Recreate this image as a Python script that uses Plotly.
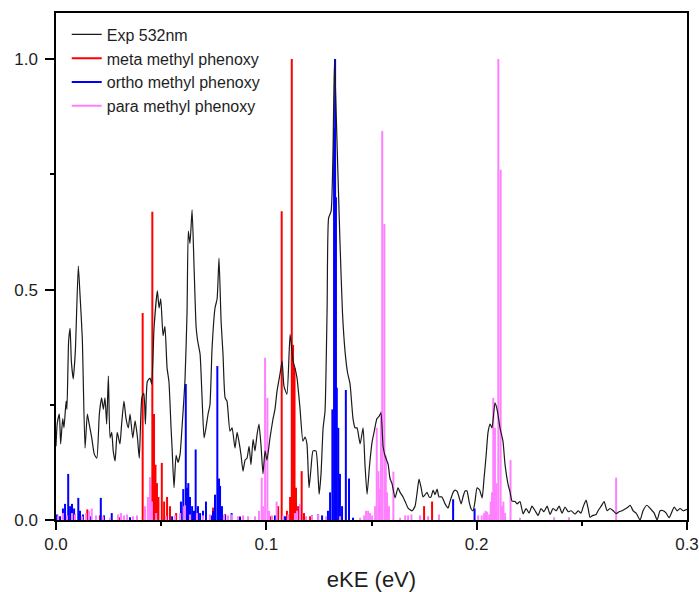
import plotly.graph_objects as go

# ---------------- data ----------------
exp_x = [0.0000, 0.0006, 0.0016, 0.0022, 0.0032, 0.0038, 0.0048, 0.0052, 0.0060, 0.0067,
         0.0073, 0.0082, 0.0092, 0.0106, 0.0114, 0.0125, 0.0138, 0.0149, 0.0157, 0.0170,
         0.0182, 0.0194, 0.0206, 0.0217, 0.0225, 0.0233, 0.0241, 0.0249, 0.0257, 0.0265,
         0.0272, 0.0281, 0.0291, 0.0304, 0.0312, 0.0323, 0.0333, 0.0344, 0.0352, 0.0365,
         0.0376, 0.0387, 0.0396, 0.0408, 0.0418, 0.0425, 0.0434, 0.0447, 0.0455, 0.0466,
         0.0482, 0.0490, 0.0498, 0.0509, 0.0518, 0.0528, 0.0537, 0.0547, 0.0552, 0.0561,
         0.0571, 0.0580, 0.0590, 0.0599, 0.0613, 0.0623, 0.0629, 0.0637, 0.0647, 0.0656,
         0.0666, 0.0673, 0.0685, 0.0694, 0.0704, 0.0713, 0.0723, 0.0732, 0.0742, 0.0756,
         0.0766, 0.0775, 0.0785, 0.0794, 0.0804, 0.0813, 0.0827, 0.0837, 0.0851, 0.0861,
         0.0870, 0.0880, 0.0889, 0.0899, 0.0908, 0.0918, 0.0927, 0.0937, 0.0946, 0.0956,
         0.0965, 0.0975, 0.0984, 0.0994, 0.1003, 0.1018, 0.1032, 0.1041, 0.1051, 0.1065,
         0.1075, 0.1084, 0.1098, 0.1113, 0.1127, 0.1136, 0.1146, 0.1160, 0.1174, 0.1184,
         0.1193, 0.1203, 0.1212, 0.1222, 0.1236, 0.1251, 0.1260, 0.1270, 0.1279, 0.1289,
         0.1296, 0.1308, 0.1317, 0.1324, 0.1336, 0.1350, 0.1362, 0.1374, 0.1386, 0.1398,
         0.1412, 0.1422, 0.1431, 0.1446, 0.1460, 0.1469, 0.1479, 0.1491, 0.1503, 0.1512,
         0.1526, 0.1536, 0.1545, 0.1555, 0.1564, 0.1579, 0.1588, 0.1598, 0.1612, 0.1626,
         0.1636, 0.1650, 0.1660, 0.1674, 0.1693, 0.1707, 0.1717, 0.1726, 0.1736, 0.1745,
         0.1755, 0.1764, 0.1774, 0.1783, 0.1793, 0.1802, 0.1812, 0.1821, 0.1835, 0.1850,
         0.1864, 0.1873, 0.1888, 0.1897, 0.1907, 0.1916, 0.1926, 0.1935, 0.1945, 0.1954,
         0.1964, 0.1973, 0.1983, 0.1992, 0.2002, 0.2014, 0.2026, 0.2035, 0.2045, 0.2054,
         0.2064, 0.2073, 0.2087, 0.2097, 0.2111, 0.2125, 0.2135, 0.2149, 0.2159, 0.2168,
         0.2183, 0.2192, 0.2206, 0.2221, 0.2235, 0.2249, 0.2263, 0.2278, 0.2292, 0.2306,
         0.2320, 0.2335, 0.2349, 0.2363, 0.2378, 0.2392, 0.2406, 0.2420, 0.2435, 0.2449,
         0.2468, 0.2482, 0.2496, 0.2506, 0.2520, 0.2530, 0.2539, 0.2553, 0.2568, 0.2577,
         0.2592, 0.2606, 0.2620, 0.2634, 0.2649, 0.2663, 0.2677, 0.2691, 0.2706, 0.2720,
         0.2730, 0.2744, 0.2758, 0.2777, 0.2791, 0.2809, 0.2825, 0.2844, 0.2858, 0.2872,
         0.2887, 0.2901, 0.2915, 0.2939, 0.2953, 0.2967, 0.2982, 0.3000]
exp_y = [0.16, 0.21, 0.23, 0.165, 0.22, 0.20, 0.258, 0.24, 0.388, 0.416,
         0.345, 0.306, 0.367, 0.551, 0.49, 0.395, 0.156, 0.23, 0.21, 0.178,
         0.143, 0.134, 0.23, 0.265, 0.24, 0.265, 0.208, 0.312, 0.178, 0.19,
         0.15, 0.128, 0.19, 0.165, 0.208, 0.258, 0.22, 0.20, 0.23, 0.178,
         0.215, 0.18, 0.134, 0.265, 0.275, 0.208, 0.30, 0.308, 0.295, 0.416,
         0.497, 0.46, 0.48, 0.40, 0.42, 0.33, 0.30, 0.20, 0.156, 0.07,
         0.14, 0.125, 0.143, 0.20, 0.30, 0.45, 0.627, 0.60, 0.673, 0.555,
         0.42, 0.39, 0.36, 0.27, 0.178, 0.20, 0.23, 0.25, 0.373, 0.46,
         0.48, 0.568, 0.43, 0.36, 0.265, 0.258, 0.193, 0.20, 0.156, 0.19,
         0.17, 0.14, 0.106, 0.13, 0.134, 0.16, 0.12, 0.175, 0.15, 0.186,
         0.208, 0.16, 0.10, 0.15, 0.13, 0.18, 0.22, 0.24, 0.28, 0.317,
         0.345, 0.29, 0.273, 0.403, 0.345, 0.33, 0.308, 0.243, 0.171, 0.18,
         0.165, 0.07, 0.11, 0.15, 0.15, 0.056, 0.10, 0.20, 0.236, 0.46,
         0.655, 0.67, 0.80, 1.0, 0.82, 0.605, 0.45, 0.367, 0.32, 0.295,
         0.22, 0.20, 0.20, 0.165, 0.20, 0.12, 0.056, 0.12, 0.17, 0.19,
         0.22, 0.225, 0.232, 0.16, 0.14, 0.121, 0.09, 0.078, 0.048, 0.07,
         0.06, 0.05, 0.04, 0.026, 0.02, 0.03, 0.06, 0.089, 0.07, 0.05,
         0.055, 0.06, 0.05, 0.05, 0.065, 0.055, 0.067, 0.05, 0.05, 0.035,
         0.026, 0.04, 0.06, 0.065, 0.062, 0.05, 0.035, 0.05, 0.063, 0.063,
         0.04, 0.025, 0.02, 0.04, 0.07, 0.065, 0.048, 0.09, 0.14, 0.19,
         0.208, 0.20, 0.254, 0.24, 0.20, 0.171, 0.12, 0.078, 0.06, 0.041,
         0.04, 0.035, 0.04, 0.013, 0.025, 0.015, 0.03, 0.02, 0.01, 0.025,
         0.018, 0.03, 0.012, 0.025, 0.02, 0.03, 0.015, 0.028, 0.018, 0.02,
         0.013, 0.02, 0.015, 0.028, 0.043, 0.025, 0.006, 0.01, 0.012, 0.02,
         0.03, 0.04, 0.02, 0.025, 0.02, 0.014, 0.018, 0.02, 0.024, 0.028,
         0.032, 0.02, 0.015, 0.0, 0.02, 0.032, 0.025, 0.015, 0.0, 0.02,
         0.02, 0.015, 0.005, 0.028, 0.02, 0.025, 0.02, 0.023]

meta_x = [0.0043, 0.0090, 0.0149, 0.0209, 0.0304, 0.0412, 0.0423, 0.0458, 0.0466, 0.0473,
          0.0480, 0.0487, 0.0503, 0.0514, 0.0528, 0.0542, 0.0571, 0.0747, 0.0804, 0.0875,
          0.1018, 0.1056, 0.1073, 0.1098, 0.1113, 0.1121, 0.1127, 0.1134, 0.1141, 0.1151,
          0.1168, 0.1179, 0.1208, 0.1750, 0.1788]
meta_y = [0.013, 0.012, 0.023, 0.010, 0.006, 0.449, 0.020, 0.669, 0.230, 0.120,
          0.080, 0.050, 0.124, 0.040, 0.050, 0.030, 0.015, 0.027, 0.013, 0.008,
          0.008, 0.030, 0.670, 0.020, 0.050, 1.000, 0.380, 0.330, 0.070, 0.030,
          0.106, 0.015, 0.008, 0.030, 0.040]

ortho_x = [0.0005, 0.0019, 0.0033, 0.0043, 0.0058, 0.0067, 0.0076, 0.0086, 0.0106, 0.0114,
           0.0128, 0.0162, 0.0213, 0.0228, 0.0265, 0.0352, 0.0552, 0.0594, 0.0605, 0.0617,
           0.0623, 0.0629, 0.0637, 0.0647, 0.0656, 0.0664, 0.0675, 0.0685, 0.0699, 0.0713,
           0.0737, 0.0747, 0.0756, 0.0767, 0.0775, 0.0780, 0.0789, 0.0804, 0.0835, 0.0875,
           0.0946, 0.1041, 0.1089, 0.1160, 0.1217, 0.1246, 0.1265, 0.1293, 0.1303, 0.1314,
           0.1322, 0.1327, 0.1331, 0.1335, 0.1342, 0.1350, 0.1360, 0.1378, 0.1393, 0.1412,
           0.1888, 0.1990]
ortho_y = [0.012, 0.008, 0.025, 0.035, 0.100, 0.030, 0.035, 0.025, 0.048, 0.020,
           0.012, 0.008, 0.048, 0.010, 0.015, 0.006, 0.008, 0.040, 0.067, 0.295,
           0.070, 0.080, 0.050, 0.030, 0.020, 0.153, 0.030, 0.015, 0.020, 0.040,
           0.010, 0.020, 0.055, 0.334, 0.090, 0.074, 0.030, 0.010, 0.015, 0.006,
           0.005, 0.010, 0.008, 0.005, 0.010, 0.012, 0.010, 0.020, 0.060, 0.240,
           0.850, 1.000, 0.700, 0.287, 0.200, 0.100, 0.030, 0.282, 0.090, 0.005,
           0.045, 0.025]

para_x = [0.0010, 0.0033, 0.0052, 0.0076, 0.0090, 0.0124, 0.0143, 0.0157, 0.0170, 0.0190,
          0.0223, 0.0257, 0.0295, 0.0309, 0.0323, 0.0338, 0.0366, 0.0385, 0.0423, 0.0437,
          0.0447, 0.0456, 0.0476, 0.0523, 0.0566, 0.0590, 0.0609, 0.0613, 0.0637, 0.0670,
          0.0699, 0.0732, 0.0799, 0.0818, 0.0837, 0.0865, 0.0889, 0.0913, 0.0946, 0.0965,
          0.0978, 0.0984, 0.0994, 0.1005, 0.1013, 0.1027, 0.1049, 0.1079, 0.1103, 0.1136,
          0.1146, 0.1160, 0.1189, 0.1217, 0.1246, 0.1284, 0.1350, 0.1446, 0.1465, 0.1474,
          0.1484, 0.1493, 0.1503, 0.1517, 0.1525, 0.1533, 0.1538, 0.1545, 0.1551, 0.1561,
          0.1568, 0.1574, 0.1583, 0.1604, 0.1636, 0.1660, 0.1674, 0.1690, 0.1731, 0.1769,
          0.1821, 0.2007, 0.2024, 0.2035, 0.2042, 0.2049, 0.2059, 0.2067, 0.2073, 0.2079,
          0.2087, 0.2095, 0.2103, 0.2114, 0.2121, 0.2127, 0.2135, 0.2161, 0.2206, 0.2368,
          0.2439, 0.2663]
para_y = [0.010, 0.015, 0.010, 0.015, 0.012, 0.008, 0.015, 0.020, 0.025, 0.010,
          0.008, 0.005, 0.012, 0.015, 0.010, 0.012, 0.008, 0.010, 0.030, 0.050,
          0.093, 0.040, 0.015, 0.008, 0.010, 0.015, 0.030, 0.032, 0.012, 0.015,
          0.010, 0.012, 0.012, 0.010, 0.012, 0.008, 0.010, 0.008, 0.008, 0.020,
          0.092, 0.030, 0.352, 0.265, 0.020, 0.010, 0.040, 0.010, 0.012, 0.015,
          0.020, 0.035, 0.008, 0.010, 0.012, 0.008, 0.008, 0.005, 0.010, 0.020,
          0.020, 0.015, 0.010, 0.030, 0.200, 0.106, 0.068, 0.236, 0.844, 0.642,
          0.140, 0.060, 0.030, 0.105, 0.005, 0.010, 0.010, 0.012, 0.010, 0.008,
          0.012, 0.010, 0.010, 0.015, 0.020, 0.018, 0.012, 0.040, 0.060, 0.265,
          0.200, 0.080, 1.000, 0.760, 0.030, 0.040, 0.015, 0.130, 0.005, 0.006,
          0.006, 0.092]

x_ticks = [0.0, 0.1, 0.2, 0.3]
y_ticks = [0.0, 0.5, 1.0]


def sticks(xs, ys):
    """Turn stick positions/heights into a vertical-segment path for one trace."""
    px, py = [], []
    for x, y in zip(xs, ys):
        px += [x, x, None]
        py += [0, y, None]
    return px, py


FONT = "Liberation Sans, Arial, sans-serif"
TXT = "#1e1e1e"
fig = go.Figure()

for name, xs, ys, col, rank in [
    ("meta methyl phenoxy", meta_x, meta_y, "#FF0000", 2),
    ("ortho methyl phenoxy", ortho_x, ortho_y, "#0000FF", 3),
    ("para methyl phenoxy", para_x, para_y, "#FF80FF", 4),
]:
    sx, sy = sticks(xs, ys)
    fig.add_trace(go.Scatter(x=sx, y=sy, mode="lines", name=name, legendrank=rank,
                             line=dict(color=col, width=2), connectgaps=False))

fig.add_trace(go.Scatter(x=exp_x, y=exp_y, mode="lines", name="Exp 532nm", legendrank=1,
                         line=dict(color="#1a1a1a", width=1.2, shape="spline", smoothing=0.5)))

axis_common = dict(showline=True, linecolor="black", linewidth=1.5, mirror=True,
                   showgrid=False, zeroline=False, ticks="outside", tickwidth=1.5,
                   tickcolor="black", automargin=False,
                   tickfont=dict(family=FONT, size=17, color=TXT))

fig.update_xaxes(range=[0, 0.3], tickvals=x_ticks, ticktext=[f"{v:.1f}" for v in x_ticks],
                 ticklen=8, minor=dict(ticks="outside", ticklen=4, dtick=0.05, tick0=0,
                                       tickwidth=1.5, tickcolor="black"),
                 title=dict(text="eKE (eV)", font=dict(family=FONT, size=22, color=TXT),
                            standoff=20),
                 **axis_common)
fig.update_yaxes(range=[0, 1.1], tickvals=y_ticks, ticktext=[f"{v:.1f}" for v in y_ticks],
                 ticklen=9, minor=dict(ticks="outside", ticklen=4, dtick=0.25, tick0=0,
                                       tickwidth=1.5, tickcolor="black"),
                 ticklabelstandoff=4,
                 **axis_common)

fig.update_layout(
    width=699, height=592,
    margin=dict(l=56, r=12, t=13, b=72),
    paper_bgcolor="white", plot_bgcolor="white",
    font=dict(family=FONT, size=16, color=TXT),
    legend=dict(x=0.017, y=0.991, xanchor="left", yanchor="top",
                bgcolor="rgba(0,0,0,0)", borderwidth=0,
                font=dict(family=FONT, size=16, color=TXT),
                tracegroupgap=0, itemwidth=30),
)

fig.write_html("out.html")
